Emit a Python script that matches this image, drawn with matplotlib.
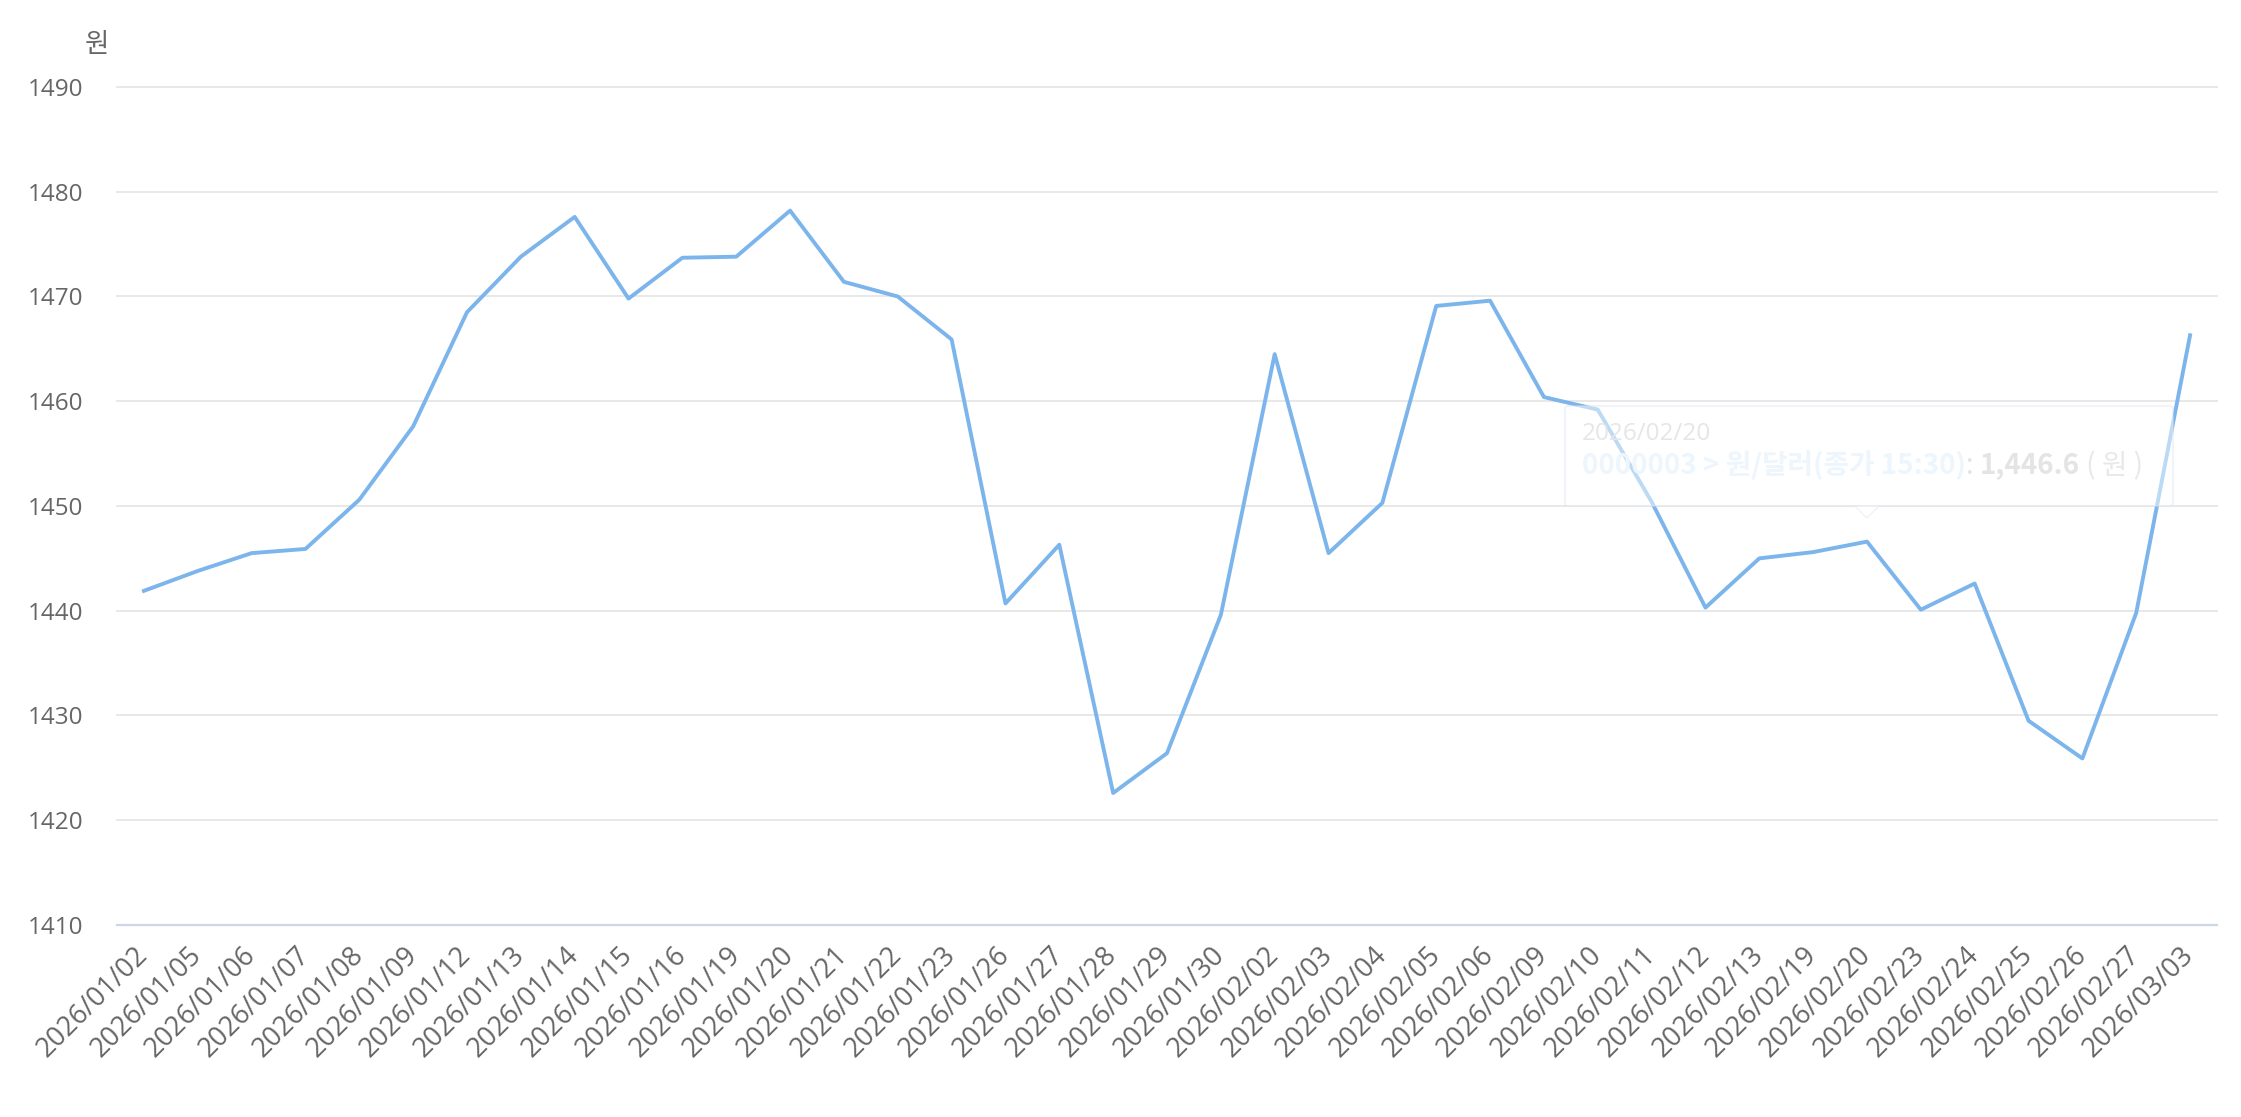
import matplotlib
matplotlib.use("Agg")
from matplotlib import pyplot as plt
from matplotlib.patches import FancyBboxPatch, Polygon

plt.rcParams["font.family"] = ["Open Sans", "Noto Sans CJK KR", "DejaVu Sans"]
plt.rcParams["axes.unicode_minus"] = False

# 날짜 (카테고리)
dates = ["2026/01/02", "2026/01/05", "2026/01/06", "2026/01/07", "2026/01/08", "2026/01/09",
         "2026/01/12", "2026/01/13", "2026/01/14", "2026/01/15", "2026/01/16", "2026/01/19",
         "2026/01/20", "2026/01/21", "2026/01/22", "2026/01/23", "2026/01/26", "2026/01/27",
         "2026/01/28", "2026/01/29", "2026/01/30", "2026/02/02", "2026/02/03", "2026/02/04",
         "2026/02/05", "2026/02/06", "2026/02/09", "2026/02/10", "2026/02/11", "2026/02/12",
         "2026/02/13", "2026/02/19", "2026/02/20", "2026/02/23", "2026/02/24", "2026/02/25",
         "2026/02/26", "2026/02/27", "2026/03/03"]
# 원/달러 종가
rates = [1441.9, 1443.8, 1445.5, 1445.9, 1450.6, 1457.6,
         1468.5, 1473.8, 1477.6, 1469.8, 1473.7, 1473.8,
         1478.2, 1471.4, 1470.0, 1465.9, 1440.7, 1446.3,
         1422.6, 1426.4, 1439.6, 1464.5, 1445.5, 1450.3,
         1469.1, 1469.6, 1460.4, 1459.2, 1450.4, 1440.3,
         1445.0, 1445.6, 1446.6, 1440.1, 1442.6, 1429.5,
         1425.9, 1439.8, 1466.3]
y_ticks = [1410, 1420, 1430, 1440, 1450, 1460, 1470, 1480, 1490]

tip_idx = 32
tip_series = "0000003 > 원/달러(종가 15:30)"

W, H = 2241, 1117
fig = plt.figure(figsize=(W / 100, H / 100), dpi=100)
ax = fig.add_axes([117 / W, (H - 925) / H, (2217 - 117) / W, (925 - 87) / H])

x = list(range(len(dates)))
ax.plot(x, rates, color="#7cb5ec", linewidth=2.8, solid_joinstyle="round", zorder=3)

ax.set_xlim(-0.5, len(dates) - 0.5)
ax.set_ylim(1410, 1490)
ax.set_yticks(y_ticks)
ax.set_yticklabels([str(v) for v in y_ticks], fontsize=17.5, color="#666666")
ax.set_xticks(x)
ax.set_xticklabels(dates, rotation=45, ha="right", va="center", rotation_mode="anchor",
                   fontsize=19.5, color="#666666")
ax.tick_params(axis="y", length=0, pad=24)
ax.tick_params(axis="x", length=0, pad=19)

for v in y_ticks[1:]:
    ax.axhline(v, color="#e6e6e6", linewidth=1.3, zorder=1, clip_on=False)
for s in ["top", "right", "left"]:
    ax.spines[s].set_visible(False)
ax.spines["bottom"].set_color("#ccd6eb")
ax.spines["bottom"].set_linewidth(1.6)

fig.text(97 / W, 1 - 45 / H, "원", fontsize=19, color="#666666", ha="center", va="center",
         family=["Noto Sans CJK KR", "DejaVu Sans"])

# 흐려진 툴팁
bx0, bx1, by0, by1 = 1565, 2173, 406, 506
box = FancyBboxPatch((bx0 / W, 1 - by1 / H), (bx1 - bx0) / W, (by1 - by0) / H,
                     boxstyle="round,pad=0,rounding_size=0.002", transform=fig.transFigure,
                     facecolor="#ffffff", edgecolor="#dde3ec", linewidth=1.2, alpha=0.5, zorder=5)
fig.add_artist(box)
tx, _ = ax.transData.transform((tip_idx, rates[tip_idx]))
arrow = Polygon([((tx - 12) / W, 1 - by1 / H), ((tx + 12) / W, 1 - by1 / H), (tx / W, 1 - (by1 + 12) / H)],
                closed=True, transform=fig.transFigure, facecolor="#ffffff", edgecolor="#e8ecf2",
                linewidth=1.0, alpha=0.7, zorder=5)
fig.add_artist(arrow)

cjk = ["Noto Sans CJK KR", "DejaVu Sans"]
fig.text(1582 / W, 1 - 434 / H, dates[tip_idx], fontsize=17.5, color="#e6e6e6", va="center",
         family=["Open Sans", "DejaVu Sans"], zorder=6)
renderer = fig.canvas.get_renderer()
cur = 1582
parts = [(tip_series, "#edf5fd", "bold"), (": ", "#e4e4e4", "normal"),
         ("1,446.6", "#e4e4e4", "bold"), (" ( 원 )", "#e8e8e8", "normal")]
for txt, col, wt in parts:
    t = fig.text(cur / W, 1 - 466 / H, txt, fontsize=20, color=col, fontweight=wt, va="center",
                 family=cjk, zorder=6)
    bb = t.get_window_extent(renderer)
    cur += bb.width

fig.savefig("out.png", dpi=100, facecolor="white")
